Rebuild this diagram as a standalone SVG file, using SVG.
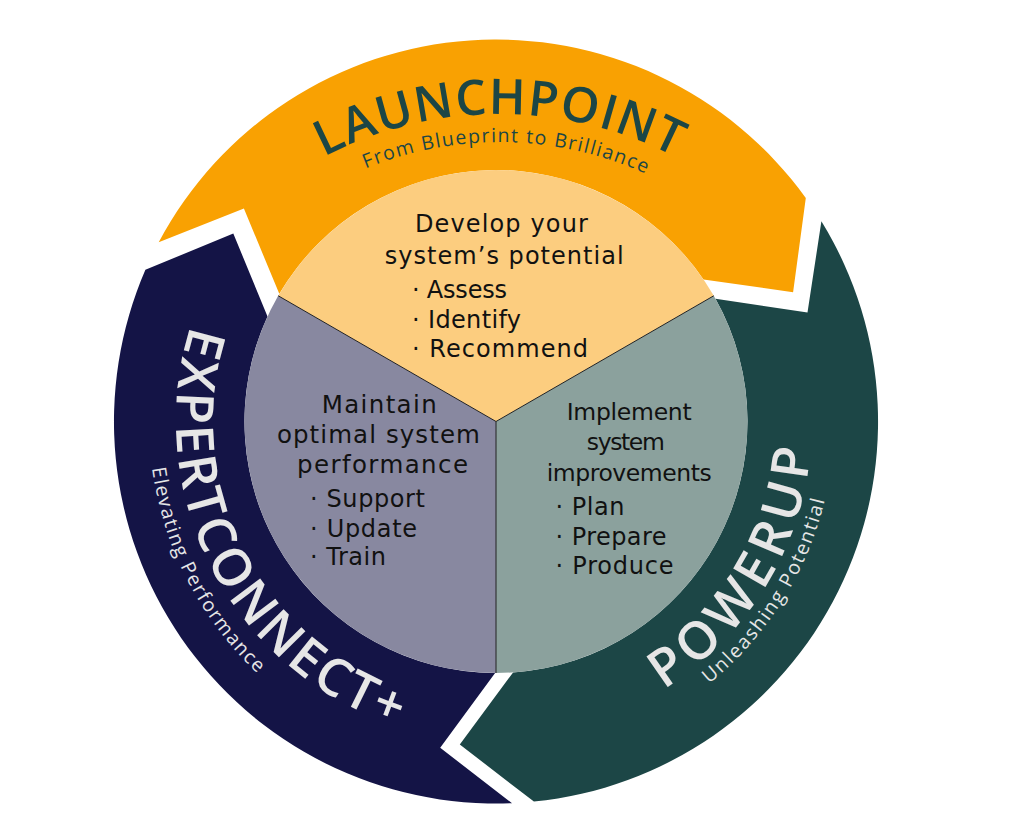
<svg xmlns="http://www.w3.org/2000/svg" width="1024" height="824" viewBox="0 0 1024 824">
<defs>
<style>
.t{font-family:'DejaVu Sans','Open Sans',sans-serif;fill:#111;font-size:24px}
.m{text-anchor:middle}
.s23{font-size:23.5px}
.s25{font-size:24.5px}
.ttl{font-family:'Open Sans','DejaVu Sans',sans-serif;font-weight:600;font-size:49px;text-anchor:middle}
.big{font-size:52px}
.sub{font-family:'Open Sans','DejaVu Sans',sans-serif;font-weight:400;font-size:19.5px;text-anchor:middle}
.dark{fill:#1C4646}
.light{fill:#E6E6E6}
.div{stroke:#222;stroke-width:1;fill:none}
</style>
<path id="pL" d="M 118.5 495 A 381 381 0 0 1 880.5 495"/>
<path id="pLs" d="M 146.5 495 A 353 353 0 0 1 852.5 495"/>
<path id="pE" d="M 496 101.5 A 320 320 0 0 0 496 741.5"/>
<path id="pEs" d="M 496 74.5 A 347 347 0 0 0 496 768.5"/>
<path id="pP" d="M 496 737.5 A 316 316 0 0 0 496 105.5"/>
<path id="pPs" d="M 496 759.5 A 338 338 0 0 0 496 83.5"/>
</defs>
<rect width="1024" height="824" fill="#fff"/>

<g id="ring-launchpoint">
<path fill="#F9A102" d="M 158.7 242.2 A 382 382 0 0 1 805.8 198.0 L 793.1 292.3 L 703.5 279.4 A 251.5 251.5 0 0 0 279.3 293.85 L 243.9 208.5 Z"/>
<text class="ttl dark"><textPath href="#pL" startOffset="50%" textLength="365" lengthAdjust="spacing">LAUNCHPOINT</textPath></text>
<text class="sub dark"><textPath href="#pLs" startOffset="560.7" textLength="288" lengthAdjust="spacing">From Blueprint to Brilliance</textPath></text>
</g>

<g id="ring-powerup">
<path fill="#1C4646" d="M 821.4 221.3 A 382 382 0 0 1 533.9 801.6 L 459.8 744.5 L 513.1 672.4 A 251.5 251.5 0 0 0 715.5 298.8 L 807.5 312.4 Z"/>
<text class="ttl big light"><textPath href="#pP" startOffset="322.6" textLength="292" lengthAdjust="spacing">POWERUP</textPath></text>
<text class="sub light"><textPath href="#pPs" startOffset="340.7" textLength="221" lengthAdjust="spacing">Unleashing Potential</textPath></text>
</g>

<g id="ring-expertconnect">
<path fill="#141446" d="M 512.0 803.2 A 382 382 0 0 1 145.4 269.8 L 233.3 233.5 L 267.5 316.4 A 251.5 251.5 0 0 0 495.1 673.0 L 440.2 747.8 Z"/>
<text class="ttl big light"><textPath href="#pE" startOffset="654.8" textLength="500" lengthAdjust="spacing">EXPERTCONNECT+</textPath></text>
<text class="sub light"><textPath href="#pEs" startOffset="709.2" textLength="235" lengthAdjust="spacing">Elevating Performance</textPath></text>
</g>

<g id="sector-develop">
<path fill="#FCCD7F" d="M 496 421.5 L 278.2 295.75 A 251.5 251.5 0 0 1 713.8 295.75 Z"/>
<text class="t m" x="501.4" y="232" textLength="173" lengthAdjust="spacing">Develop your</text>
<text class="t m" x="504.2" y="263.5" textLength="239" lengthAdjust="spacing">system’s potential</text>
<text class="t" x="412" y="298" textLength="95" lengthAdjust="spacing">· Assess</text>
<text class="t" x="412" y="327.5" textLength="109" lengthAdjust="spacing">· Identify</text>
<text class="t" x="412" y="357" textLength="176" lengthAdjust="spacing">· Recommend</text>
</g>

<g id="sector-implement">
<path fill="#8BA19D" d="M 496 421.5 L 713.8 295.75 A 251.5 251.5 0 0 1 496 673 Z"/>
<text class="t s23 m" x="629.2" y="419.5" textLength="125" lengthAdjust="spacing">Implement</text>
<text class="t s23 m" x="625.8" y="449.5" textLength="78" lengthAdjust="spacing">system</text>
<text class="t s23 m" x="629.2" y="481" textLength="165" lengthAdjust="spacing">improvements</text>
<text class="t" x="555.5" y="515" textLength="69" lengthAdjust="spacing">· Plan</text>
<text class="t" x="555.5" y="544.5" textLength="111" lengthAdjust="spacing">· Prepare</text>
<text class="t" x="555.5" y="573.5" textLength="118" lengthAdjust="spacing">· Produce</text>
</g>

<g id="sector-maintain">
<path fill="#8888A0" d="M 496 421.5 L 496 673 A 251.5 251.5 0 0 1 278.2 295.75 Z"/>
<text class="t s25 m" x="379.2" y="412.7" textLength="115" lengthAdjust="spacing">Maintain</text>
<text class="t s25 m" x="378.4" y="442.5" textLength="203" lengthAdjust="spacing">optimal system</text>
<text class="t s25 m" x="382.5" y="473" textLength="171" lengthAdjust="spacing">performance</text>
<text class="t" x="310" y="507" textLength="115" lengthAdjust="spacing">· Support</text>
<text class="t" x="310" y="536.8" textLength="107" lengthAdjust="spacing">· Update</text>
<text class="t" x="310" y="565.4" textLength="76" lengthAdjust="spacing">· Train</text>
</g>

<g id="connectors">
<line class="div" x1="496" y1="421.5" x2="278.2" y2="295.75"/>
<line class="div" x1="496" y1="421.5" x2="713.8" y2="295.75"/>
<line class="div" x1="496" y1="421.5" x2="496" y2="673"/>
</g>
</svg>
